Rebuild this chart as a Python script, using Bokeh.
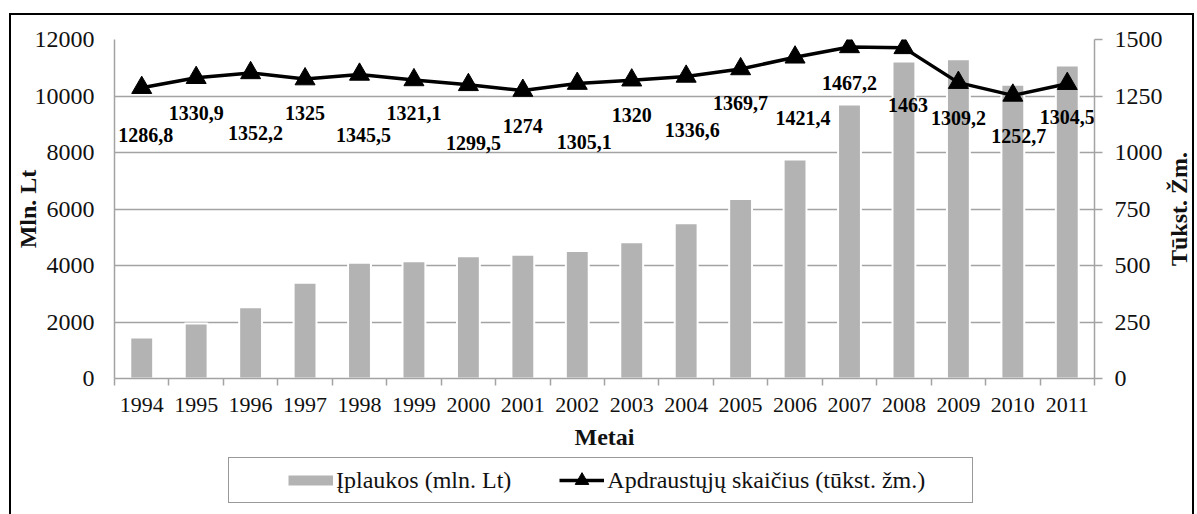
import math
from bokeh.plotting import figure
from bokeh.layouts import column, row
from bokeh.models import (Range1d, LinearAxis, FixedTicker, ColumnDataSource,
                          Legend, LegendItem, Label)
from bokeh.embed import file_html
from bokeh.resources import INLINE

# ---- data ----
years = [1994, 1995, 1996, 1997, 1998, 1999, 2000, 2001, 2002, 2003,
         2004, 2005, 2006, 2007, 2008, 2009, 2010, 2011]
revenue = [1450, 1950, 2520, 3390, 4100, 4150, 4330, 4380, 4510, 4820,
           5500, 6350, 7750, 9700, 11220, 11300, 10400, 11080]
insured = [1286.8, 1330.9, 1352.2, 1325, 1345.5, 1321.1, 1299.5, 1274, 1305.1,
           1320, 1336.6, 1369.7, 1421.4, 1467.2, 1463, 1309.2, 1252.7, 1304.5]
left_ticks = [0, 2000, 4000, 6000, 8000, 10000, 12000]
right_ticks = [0, 250, 500, 750, 1000, 1250, 1500]
bar_name = "Įplaukos (mln. Lt)"
line_name = "Apdraustųjų skaičius (tūkst. žm.)"
right_title = "Tūkst. Žm."

# label placement (pixels, style only)
lab_dx = [4, 0, 5, 0, 4, 0, 5, 0, 7, 0, 6, 0, 8, 0, 4, 0, 6, 0]
lab_dy = [47, 35, 60, 34, 61, 33, 58, 35, 58, 35, 54, 34, 61, 36, 57, 35, 41, 33]

SERIF = "Liberation Serif"
GRID = "#a3a3a3"
BAR = "#b3b3b3"
NBSP = "\u00a0"
idx = list(range(len(years)))
y_rng = Range1d(0, 12000)

p = figure(width=1154, height=444, output_backend="svg", toolbar_location=None,
           x_range=Range1d(-0.5, len(years) - 0.5), y_range=y_rng,
           min_border_left=102, min_border_right=69, min_border_top=24,
           min_border_bottom=81)
p.margin = (13, 0, 0, 9)
p.styles = {"border-left": "2px solid black", "border-top": "2px solid black"}
p.outline_line_color = None
p.background_fill_color = "white"
p.border_fill_color = "white"
p.extra_y_ranges = {"r": Range1d(0, 1500)}

# grid
p.xgrid.grid_line_color = None
p.ygrid.grid_line_color = GRID
p.ygrid.grid_line_width = 1.5

# x axis
xa = p.xaxis[0]
xa.ticker = FixedTicker(ticks=idx, minor_ticks=[i - 0.5 for i in range(len(years) + 1)])
xa.major_label_overrides = {i: str(y) for i, y in zip(idx, years)}
xa.major_tick_out = 0
xa.major_tick_in = 0
xa.minor_tick_out = 7
xa.minor_tick_in = 0
xa.minor_tick_line_color = GRID
xa.minor_tick_line_width = 1.5
xa.axis_line_color = GRID
xa.axis_line_width = 1.5
xa.major_label_text_font = SERIF
xa.major_label_text_font_size = "22px"
xa.major_label_text_color = "#111111"
xa.major_label_standoff = 12
xa.axis_label = "Metai"
xa.axis_label_text_font = SERIF
xa.axis_label_text_font_style = "bold"
xa.axis_label_text_font_size = "24px"
xa.axis_label_text_color = "#111111"
xa.axis_label_standoff = 9

# left y axis
ya = p.yaxis[0]
ya.ticker = FixedTicker(ticks=left_ticks)
ya.major_tick_out = 0
ya.major_tick_in = 0
ya.minor_tick_line_color = None
ya.axis_line_color = GRID
ya.axis_line_width = 1.5
ya.major_label_text_font = SERIF
ya.major_label_text_font_size = "24px"
ya.major_label_text_color = "#111111"
ya.major_label_standoff = 20
ya.axis_label = "Mln. Lt"
ya.axis_label_text_font = SERIF
ya.axis_label_text_font_style = "bold"
ya.axis_label_text_font_size = "24px"
ya.axis_label_text_color = "#111111"
ya.axis_label_standoff = -9

# right y axis (its title lives in the narrow strip to the right)
ra = LinearAxis(y_range_name="r", ticker=FixedTicker(ticks=right_ticks))
ra.major_tick_out = 8
ra.major_tick_in = 0
ra.major_tick_line_color = GRID
ra.major_tick_line_width = 1.5
ra.minor_tick_line_color = None
ra.axis_line_color = GRID
ra.axis_line_width = 1.5
ra.major_label_text_font = SERIF
ra.major_label_text_font_size = "24px"
ra.major_label_text_color = "#111111"
ra.major_label_standoff = 12
p.add_layout(ra, "right")

# bars
p.vbar(x=idx, top=revenue, width=0.42, bottom=0,
       fill_color=BAR, line_color="white", line_width=2)

# line + markers
src = ColumnDataSource(dict(x=idx, y=insured,
                            t=[f"{v:g}".replace(".", ",") for v in insured],
                            dx=lab_dx, dy=lab_dy))
p.line("x", "y", source=src, y_range_name="r", line_color="black", line_width=3.5)
p.scatter("x", "y", source=src, y_range_name="r", marker="triangle",
          size=20, fill_color="black", line_color="black")
p.text("x", "y", text="t", source=src, y_range_name="r", x_offset="dx", y_offset="dy",
       text_align="center", text_baseline="middle", text_font=SERIF,
       text_font_style="bold", text_font_size="20px", text_color="black")

# ---- right title strip ----
r = figure(width=31, height=444, output_backend="svg", toolbar_location=None,
           x_axis_type=None, y_axis_type=None, min_border_left=0, min_border_right=0,
           min_border_top=24, min_border_bottom=81,
           x_range=Range1d(0, 1), y_range=y_rng)
r.margin = (13, 0, 0, 0)
r.styles = {"border-top": "2px solid black", "border-right": "2px solid black"}
r.outline_line_color = None
r.background_fill_color = "white"
r.border_fill_color = "white"
r.add_layout(Label(x=0.5, y=(y_rng.start + y_rng.end) / 2, text=right_title,
                   angle=math.pi / 2, text_align="center", text_baseline="middle",
                   text_font=SERIF, text_font_style="bold", text_font_size="24px",
                   text_color="#111111"))

# ---- legend strip (separate canvas so the legend is not clipped) ----
q = figure(width=1185, height=57, output_backend="svg", toolbar_location=None,
           x_axis_type=None, y_axis_type=None, min_border=0,
           x_range=Range1d(0, 1), y_range=Range1d(0, 1))
q.margin = (0, 0, 0, 9)
q.styles = {"border-left": "2px solid black", "border-right": "2px solid black"}
q.outline_line_color = None
q.background_fill_color = "white"
q.border_fill_color = "white"

nan = float("nan")
filler = q.line(x=[nan], y=[nan], line_alpha=0)
bar_key = q.line(x=[nan], y=[nan], line_color=BAR, line_width=10)
line_key = q.line(x=[nan], y=[nan], line_color="black", line_width=3.5)
mark_key = q.scatter(x=[nan], y=[nan], marker="triangle",
                     fill_color="black", line_color="black")

legend = Legend(items=[LegendItem(label=NBSP, renderers=[filler]),
                       LegendItem(label=bar_name + NBSP * 8, renderers=[bar_key]),
                       LegendItem(label=line_name + NBSP * 7, renderers=[line_key, mark_key])],
                location=(217, 11), orientation="horizontal",
                glyph_width=45, glyph_height=34, label_standoff=3, label_width=0,
                padding=5, margin=0, spacing=0,
                border_line_color="#333333", border_line_width=1.5,
                background_fill_color="white",
                label_text_font=SERIF, label_text_font_size="24px",
                label_text_color="#111111")
q.add_layout(legend, "center")

layout = column(row(p, r, spacing=0), q, spacing=0)
open("out.html", "w").write(file_html(layout, INLINE))
